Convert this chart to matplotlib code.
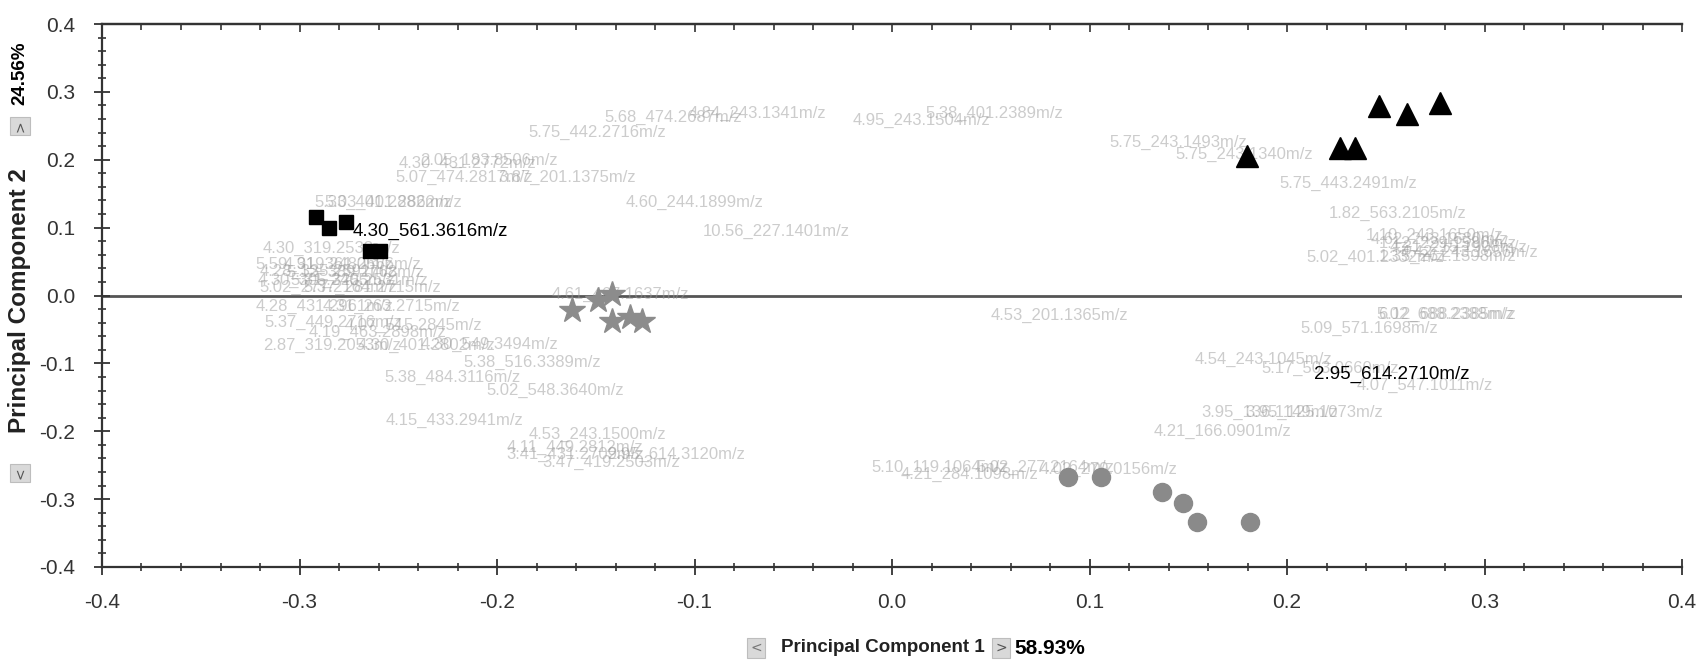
import matplotlib
matplotlib.use("Agg")
import matplotlib.pyplot as plt
from matplotlib.ticker import MultipleLocator, FormatStrFormatter

FONT = ['Liberation Sans', 'DejaVu Sans']

# ---- data ----
square_x = [-0.2916, -0.2851, -0.2765, -0.2643, -0.2592]
square_y = [0.1155, 0.1000, 0.1088, 0.0653, 0.0653]

star_x = [-0.162, -0.149, -0.142, -0.142, -0.1326, -0.1265]
star_y = [-0.022, -0.006, 0.002, -0.038, -0.032, -0.037]

circle_x = [0.0893, 0.1058, 0.1367, 0.1472, 0.1546, 0.1813]
circle_y = [-0.268, -0.268, -0.290, -0.306, -0.333, -0.334]

tri_x = [0.1796, 0.2268, 0.2344, 0.2466, 0.2609, 0.2775]
tri_y = [0.2055, 0.2177, 0.2177, 0.279, 0.267, 0.284]

grey_labels = [
    "5.68_474.2687m/z", "4.84_243.1341m/z", "5.75_442.2716m/z", "4.95_243.1504m/z",
    "5.38_401.2389m/z", "4.30_431.2772m/z", "2.05_183.8506m/z", "5.07_474.2817m/z",
    "3.87_201.1375m/z", "5.33_401.2882m/z", "5.03_401.2862m/z", "4.60_244.1899m/z",
    "10.56_227.1401m/z", "4.30_319.2533m/z",
    "5.59_319.2480m/z", "4.91_361.2566m/z", "4.28_335.2591m/z", "5.12_389.2768m/z",
    "4.30_305.2405m/z", "5.31_325.2531m/z", "5.02_277.2164m/z", "5.37_281.2715m/z",
    "4.28_431.2961m/z", "4.31_263.2715m/z", "5.37_449.2716m/z", "4.07_515.2845m/z",
    "4.19_463.2898m/z", "2.87_319.2053m/z", "4.30_401.2802m/z", "4.30_549.3494m/z",
    "4.61_467.1637m/z", "5.38_516.3389m/z",
    "5.38_484.3116m/z", "5.02_548.3640m/z", "4.15_433.2941m/z", "4.53_243.1500m/z",
    "4.11_449.2812m/z", "3.41_431.2709m/z", "3.47_419.2503m/z", "2.95_614.3120m/z",
    "5.10_119.1064m/z", "4.21_284.1098m/z", "5.02_277.2164m/z", "4.02_279.0156m/z",
    "4.53_201.1365m/z",
    "5.75_243.1493m/z", "5.75_243.1340m/z", "5.75_443.2491m/z", "1.82_563.2105m/z",
    "1.10_243.1650m/z", "4.62_243.1630m/z", "1.12_229.1586m/z", "4.31_215.1908m/z",
    "4.42_243.1656m/z", "1.35_261.1598m/z", "5.02_401.2332m/z", "5.02_688.2388m/z",
    "6.12_688.2385m/z", "5.09_571.1698m/z", "4.54_243.1045m/z", "5.17_503.0660m/z",
    "4.07_547.1011m/z", "3.95_136.1149m/z", "3.95_125.1073m/z", "4.21_166.0901m/z",
]
grey_x = [
    -0.1458, -0.1029, -0.1843, -0.0198,
    0.0171, -0.2498, -0.2388, -0.2514,
    -0.1992, -0.2927, -0.2872, -0.1348,
    -0.0957, -0.3186,
    -0.3224, -0.3081, -0.3202, -0.3065,
    -0.3213, -0.3048, -0.3202, -0.2982,
    -0.3224, -0.2883, -0.3180, -0.2773,
    -0.2955, -0.3186, -0.2707, -0.2388,
    -0.1723, -0.2168,
    -0.2569, -0.2052, -0.2564, -0.1838,
    -0.1953, -0.1953, -0.1772, -0.1442,
    -0.0105, 0.0044, 0.0429, 0.0748,
    0.0500,
    0.1100, 0.1436, 0.1959, 0.2212,
    0.2399, 0.2421, 0.2465, 0.2520,
    0.2575, 0.2465, 0.2096, 0.2454,
    0.2460, 0.2069, 0.1530, 0.1870,
    0.2355, 0.1568, 0.1788, 0.1326,
]
grey_y = [
    0.2624, 0.2688, 0.2400, 0.2576,
    0.2688, 0.1952, 0.1984, 0.1744,
    0.1744, 0.1376, 0.1376, 0.1376,
    0.0944, 0.0688,
    0.0464, 0.0464, 0.0352, 0.0336,
    0.0224, 0.0224, 0.0112, 0.0112,
    -0.0160, -0.0160, -0.0400, -0.0448,
    -0.0544, -0.0736, -0.0736, -0.0720,
    0.0016, -0.0992,
    -0.1200, -0.1392, -0.1840, -0.2048,
    -0.2240, -0.2336, -0.2464, -0.2336,
    -0.2528, -0.2640, -0.2528, -0.2560,
    -0.0288,
    0.2256, 0.2080, 0.1648, 0.1216,
    0.0880, 0.0832, 0.0768, 0.0704,
    0.0640, 0.0576, 0.0560, -0.0272,
    -0.0272, -0.0480, -0.0944, -0.1070,
    -0.1328, -0.1728, -0.1728, -0.2000,
]

black_labels = ["4.30_561.3616m/z", "2.95_614.2710m/z"]
black_x = [-0.2729, 0.2135]
black_y = [0.0944, -0.1168]

x_ticks = [-0.4, -0.3, -0.2, -0.1, 0.0, 0.1, 0.2, 0.3, 0.4]
y_ticks = [-0.4, -0.3, -0.2, -0.1, 0.0, 0.1, 0.2, 0.3, 0.4]
x_label = "Principal Component 1"
y_label = "Principal Component 2"
x_pct = "58.93%"
y_pct = "24.56%"

# ---- figure ----
W, H = 1701, 660
fig = plt.figure(figsize=(W / 100, H / 100), dpi=100)
ax = fig.add_axes([102 / W, 1 - 567 / H, (1682 - 102) / W, (567 - 24) / H])
ax.set_xlim(-0.4, 0.4)
ax.set_ylim(-0.4, 0.4)

ax.axhline(0, color='#555555', lw=2, zorder=1)

for t, x, y in zip(grey_labels, grey_x, grey_y):
    ax.text(x, y, t, fontsize=12, family=FONT, color='#9a9a9a', alpha=0.5,
            ha='left', va='center', zorder=2)

ax.plot(square_x, square_y, 's', color='black', ms=10, zorder=4)
ax.plot(star_x, star_y, '*', color='#8c8c8c', ms=19, mec='#8c8c8c', zorder=4)
ax.plot(circle_x, circle_y, 'o', color='#8a8a8a', ms=13, mec='#8a8a8a', zorder=4)
ax.plot(tri_x, tri_y, '^', color='black', ms=16, zorder=4)

for t, x, y in zip(black_labels, black_x, black_y):
    ax.text(x, y, t, fontsize=13.5, family=FONT, color='black',
            ha='left', va='center', zorder=5)

ax.set_xticks(x_ticks)
ax.set_yticks(y_ticks)
ax.xaxis.set_minor_locator(MultipleLocator(0.02))
ax.yaxis.set_minor_locator(MultipleLocator(0.02))
ax.xaxis.set_major_formatter(FormatStrFormatter('%.1f'))
ax.yaxis.set_major_formatter(FormatStrFormatter('%.1f'))

for s in ['left', 'bottom', 'top']:
    ax.spines[s].set_color('#333333')
    ax.spines[s].set_linewidth(1.6)
ax.spines['right'].set_visible(False)

ax.tick_params(axis='both', which='major', direction='inout', length=11, width=1.3,
               color='#333333', labelsize=15, labelcolor='#333333')
ax.tick_params(axis='both', which='minor', direction='inout', length=6, width=1.2,
               color='#333333')
ax.tick_params(axis='x', which='both', top=False, pad=13)
ax.tick_params(axis='y', which='major', pad=14)
for lab in ax.get_xticklabels() + ax.get_yticklabels():
    lab.set_family(FONT)

# top edge: small inward ticks only
sec = ax.secondary_xaxis('top')
sec.set_xticks(x_ticks)
sec.xaxis.set_minor_locator(MultipleLocator(0.02))
sec.tick_params(axis='x', which='major', direction='in', length=6, width=1.2,
                color='#333333', labeltop=False)
sec.tick_params(axis='x', which='minor', direction='in', length=4, width=1.2,
                color='#333333')
sec.spines['top'].set_color('#333333')
sec.spines['top'].set_linewidth(1.6)


def fx(px):
    return px / W


def fy(py):
    return 1 - py / H


icon_kw = dict(boxstyle='square,pad=0.2', fc='#d9d9d9', ec='#bdbdbd', lw=0.8)

# x-axis label
fig.text(fx(756), fy(648), "<", fontsize=10, color='#777777', ha='center', va='center',
         bbox=icon_kw, family='DejaVu Sans')
fig.text(fx(781), fy(648), x_label, fontsize=13.5, fontweight='bold', family=FONT,
         color='#222222', ha='left', va='center')
fig.text(fx(1001), fy(648), ">", fontsize=10, color='#555555', ha='center', va='center',
         bbox=icon_kw, family='DejaVu Sans')
fig.text(fx(1014), fy(648), x_pct, fontsize=15, fontweight='bold', family=FONT,
         color='black', ha='left', va='center')

# y-axis label
fig.text(fx(20), fy(473), "<", fontsize=10, color='#555555', ha='center', va='center',
         rotation=90, bbox=icon_kw, family='DejaVu Sans')
fig.text(fx(20), fy(301), y_label, fontsize=17.5, fontweight='bold', family=FONT,
         color='#222222', ha='center', va='center', rotation=90)
fig.text(fx(20), fy(126), ">", fontsize=10, color='#555555', ha='center', va='center',
         rotation=90, bbox=icon_kw, family='DejaVu Sans')
fig.text(fx(20), fy(73), y_pct, fontsize=13.5, fontweight='bold', family=FONT,
         color='black', ha='center', va='center', rotation=90)

fig.savefig("out.png", dpi=100, facecolor='white')
